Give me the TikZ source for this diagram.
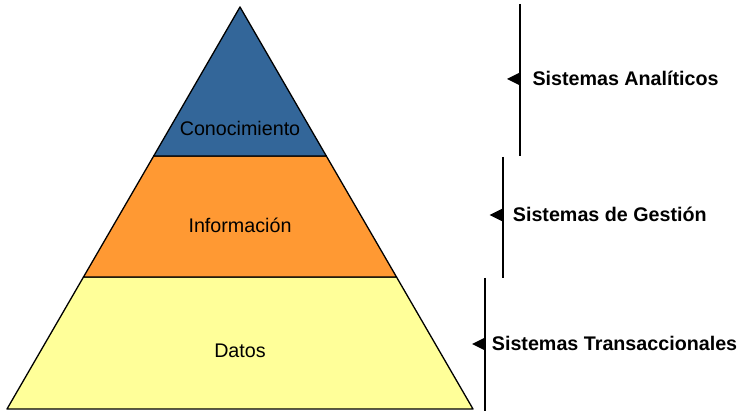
\documentclass[tikz,border=0pt]{standalone}
\usepackage{fontspec}
\setmainfont{Liberation Sans}
\usetikzlibrary{calc}
\definecolor{tierblue}{HTML}{336699}
\definecolor{tierorange}{HTML}{FF9933}
\definecolor{tieryellow}{HTML}{FFFF99}
\begin{document}
\begin{tikzpicture}[x=1pt,y=-1pt,
  band/.style={draw=black,line width=1.3pt,line join=round},
  layer/.style={font=\fontsize{19.7}{22}\selectfont,anchor=base,inner sep=0pt},
  syslabel/.style={font=\fontsize{19.7}{22}\selectfont\bfseries,anchor=base west,inner sep=0pt},
  bracket/.style={line width=2pt},
  marker/.style={fill=black}]
\useasboundingbox (0,0) rectangle (744,411);

% pyramid corners
\coordinate (apex) at (240,7);
\coordinate (l1) at (153.7,156);
\coordinate (r1) at (326.3,156);
\coordinate (l2) at (83.5,277);
\coordinate (r2) at (396.5,277);
\coordinate (bl) at (7,409);
\coordinate (br) at (473,409);

% pyramid bands
\path[band,fill=tieryellow] (l2) -- (r2) -- (br) -- (bl) -- cycle;
\path[band,fill=tierorange] (l1) -- (r1) -- (r2) -- (l2) -- cycle;
\path[band,fill=tierblue] (apex) -- (r1) -- (l1) -- cycle;

% layer names
\node[layer] (know) at (240,136) {Conocimiento};
\node[layer] (info) at (240,233) {Información};
\node[layer] (data) at (240,358) {Datos};

% system brackets
\coordinate (a1) at (520,4);
\coordinate (a2) at (520,156);
\coordinate (b1) at (502.5,157);
\coordinate (b2) at (502.5,278);
\coordinate (c1) at (485,278);
\coordinate (c2) at (485,411);
\draw[bracket] (a1) -- (a2);
\draw[bracket] (b1) -- (b2);
\draw[bracket] (c1) -- (c2);

% markers on the brackets
\coordinate (m1) at (520,79);
\coordinate (m2) at (502.5,215);
\coordinate (m3) at (485,344);
\foreach \m in {m1,m2,m3}
  \fill[marker] ($(\m)+(-13,0)$) -- ($(\m)+(0,-6.5)$) -- ($(\m)+(0,6.5)$) -- cycle;

% system names
\node[syslabel] (sa) at (532.3,86) {Sistemas Analíticos};
\node[syslabel] (sg) at (512.7,222) {Sistemas de Gestión};
\node[syslabel] (st) at (491.7,351) {Sistemas Transaccionales};
\end{tikzpicture}
\end{document}
